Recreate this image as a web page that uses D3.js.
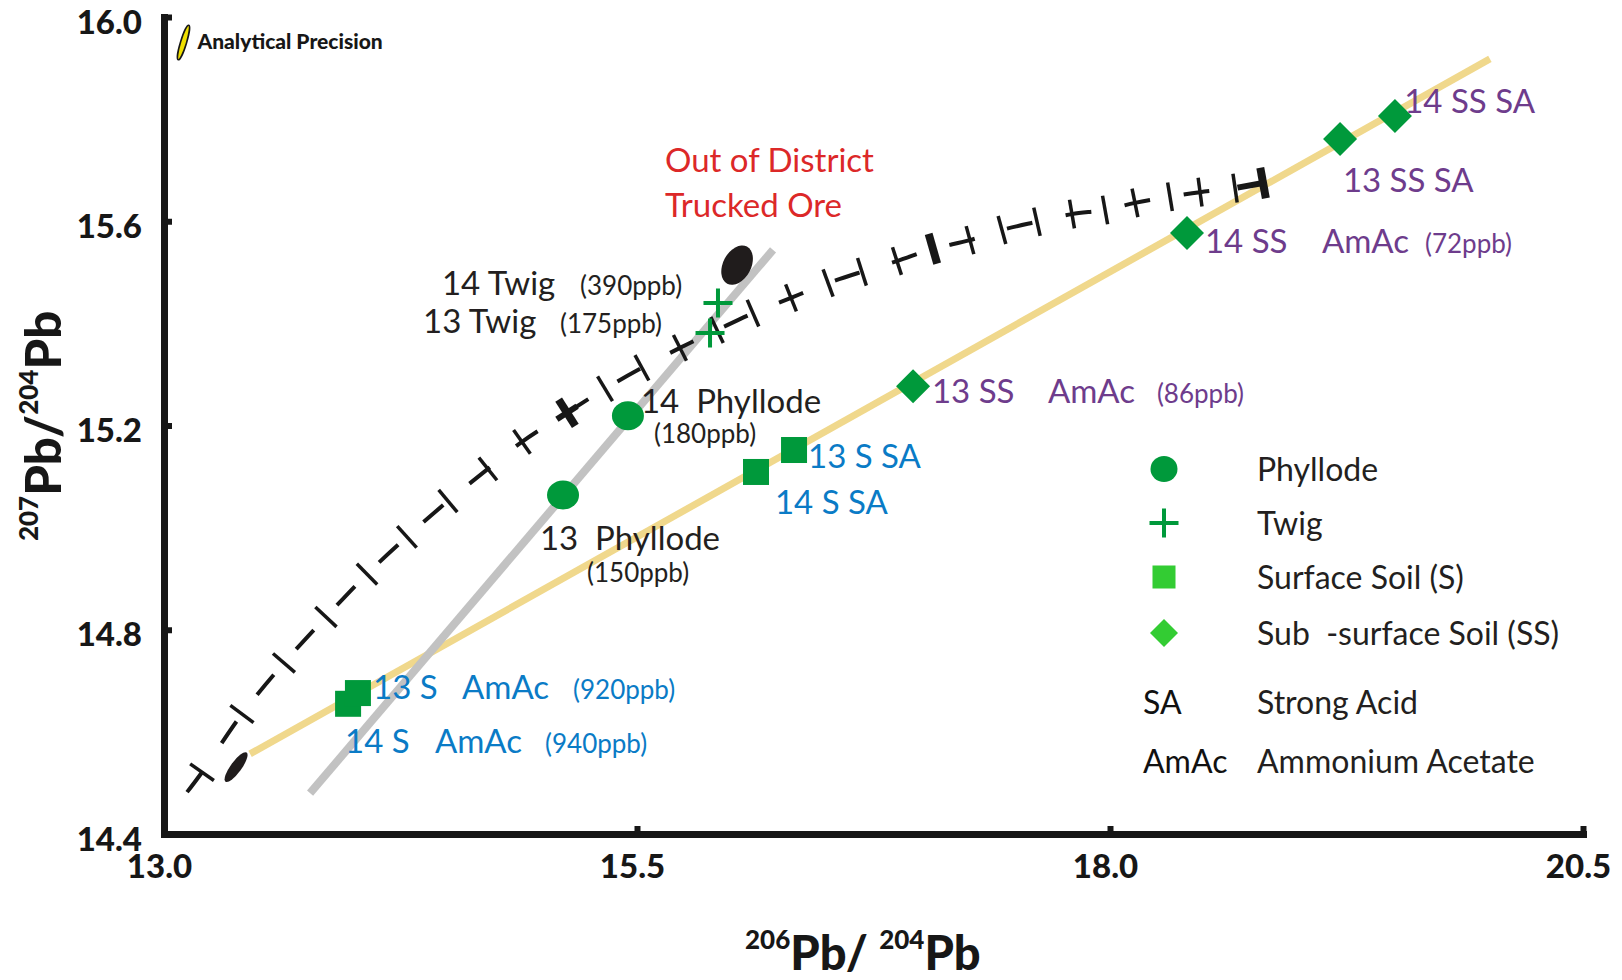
<!DOCTYPE html>
<html>
<head>
<meta charset="utf-8">
<script src="https://cdn.jsdelivr.net/npm/d3@7"></script>
<style>
  html, body { margin: 0; padding: 0; background: #ffffff; }
  svg { display: block; font-family: Lato, "Open Sans", sans-serif; }
  text { white-space: pre; }
</style>
</head>
<body>
<svg id="chart" width="1622" height="980"></svg>
<script>
// ---- Axis ticks ----
const xTicks = [13.0, 15.5, 18.0, 20.5];
const yTicks = [14.4, 14.8, 15.2, 15.6, 16.0];

// ---- Samples: 206Pb/204Pb and 207Pb/204Pb ----
const sampleNames = ["13 Phyllode", "14 Phyllode", "13 Twig", "14 Twig",
  "14 S AmAc", "13 S AmAc", "14 S SA", "13 S SA",
  "13 SS AmAc", "14 SS AmAc", "13 SS SA", "14 SS SA"];
const sampleType = ["phyllode", "phyllode", "twig", "twig",
  "surface", "surface", "surface", "surface",
  "subsurface", "subsurface", "subsurface", "subsurface"];
const sample206 = [15.109, 15.452, 15.886, 15.928,
  13.973, 14.025, 16.129, 16.330,
  16.959, 18.407, 19.216, 19.506];
const sample207 = [15.064, 15.219, 15.381, 15.440,
  14.655, 14.676, 15.109, 15.152,
  15.277, 15.577, 15.761, 15.806];

// ---- Mixing / trend lines (end points) ----
const soilLine206 = [13.455, 20.008];
const soilLine207 = [14.557, 15.918];
const plantLine206 = [13.772, 16.219];
const plantLine207 = [14.480, 15.544];

// ---- Lead growth curve; tick: 1 minor, 2 major bar, 3 major cross ----
const curve206 = [13.122, 13.201, 13.412, 13.634, 13.856, 14.073, 14.284, 14.501, 14.712, 14.892,
  15.130, 15.331, 15.526, 15.727, 15.923, 16.113, 16.314, 16.510, 16.689, 16.874,
  17.064, 17.260, 17.429, 17.614, 17.799, 17.974, 18.132, 18.317, 18.476, 18.661, 18.809];
const curve207 = [14.482, 14.521, 14.635, 14.735, 14.825, 14.909, 14.982, 15.052, 15.115, 15.168,
  15.225, 15.272, 15.313, 15.352, 15.387, 15.420, 15.450, 15.479, 15.501, 15.522,
  15.546, 15.563, 15.583, 15.599, 15.614, 15.622, 15.636, 15.648, 15.657, 15.665, 15.675];
const curveTick = [0, 1, 1, 1, 1, 1, 1, 1, 1, 1,
  3, 1, 1, 1, 1, 1, 1, 1, 1, 1,
  2, 1, 1, 1, 1, 1, 1, 1, 1, 1, 3];

// ---- Reference ore compositions ----
const oreNames = ["Out of District Trucked Ore", "Local Ore"];
const ore206 = [16.029, 13.381];
const ore207 = [15.514, 14.531];

// ---- Annotation labels (start 206Pb/204Pb, baseline 207Pb/204Pb) ----
const labelText = ["Out of District", "Trucked Ore",
  "14 Twig", "(390ppb)", "13 Twig", "(175ppb)",
  "14  Phyllode", "(180ppb)", "13  Phyllode", "(150ppb)",
  "13 S SA", "14 S SA",
  "13 SS", "AmAc", "(86ppb)",
  "14 SS", "AmAc", "(72ppb)",
  "13 SS SA", "14 SS SA",
  "13 S", "AmAc", "(920ppb)",
  "14 S", "AmAc", "(940ppb)"];
const labelGroup = ["ore", "ore",
  "plant", "plant", "plant", "plant",
  "plant", "plant", "plant", "plant",
  "surface", "surface",
  "subsurface", "subsurface", "subsurface",
  "subsurface", "subsurface", "subsurface",
  "subsurface", "subsurface",
  "surface", "surface", "surface",
  "surface", "surface", "surface"];
const label206 = [15.648, 15.648,
  14.469, 15.199, 14.369, 15.093,
  15.521, 15.590, 14.987, 15.236,
  16.404, 16.229,
  17.059, 17.672, 18.248,
  18.502, 19.120, 19.665,
  19.231, 19.555,
  14.105, 14.575, 15.162,
  13.957, 14.432, 15.014];
const label207 = [15.697, 15.608,
  15.456, 15.456, 15.381, 15.381,
  15.224, 15.166, 14.956, 14.894,
  15.117, 15.027,
  15.244, 15.244, 15.244,
  15.538, 15.538, 15.538,
  15.657, 15.812,
  14.664, 14.664, 14.664,
  14.559, 14.559, 14.559];

// ---- Legend ----
const legendKeys = ["phyllode", "twig", "surface", "subsurface", "SA", "AmAc"];
const legendNames = ["Phyllode", "Twig", "Surface Soil (S)", "Sub  -surface Soil (SS)", "Strong Acid", "Ammonium Acetate"];

const precisionLabel = "Analytical Precision";
const precision206 = 13.103, precision207 = 15.950;

// ================= drawing =================
const svg = d3.select("#chart");
const ink = "#171717";
const green = "#00993b";
const lightGreen = "#33cc33";
const toneColour = { ore: "#dc2828", plant: "#231f20", surface: "#0a7bc6", subsurface: "#6e3c8c" };

const x = d3.scaleLinear().domain([13.0, 20.5]).range([164, 1583]);
const y = d3.scaleLinear().domain([14.4, 16.0]).range([834, 17]);

// Axes: thick frame on left and bottom with short inward ticks
const xAxis = d3.axisBottom(x).tickValues(xTicks).tickFormat(d3.format(".1f"))
  .tickSizeInner(-8).tickSizeOuter(0).tickPadding(0);
const yAxis = d3.axisLeft(y).tickValues(yTicks).tickFormat(d3.format(".1f"))
  .tickSizeInner(-8).tickSizeOuter(0).tickPadding(0);

const gx = svg.append("g").attr("transform", `translate(0,${y(14.4)})`).call(xAxis);
const gy = svg.append("g").attr("transform", `translate(${x(13.0)},0)`).call(yAxis);

[gx, gy].forEach(g => {
  g.select(".domain").attr("stroke", ink).attr("stroke-width", 7).attr("stroke-linecap", "square");
  g.selectAll(".tick line").attr("stroke", ink).attr("stroke-width", 6);
  g.selectAll(".tick text")
    .attr("fill", ink)
    .style("font-family", "Lato, sans-serif")
    .style("font-weight", "900")
    .style("font-size", "33px");
});
gx.selectAll(".tick text").attr("y", 44).attr("dy", 0).attr("x", -5).attr("text-anchor", "middle");
gy.selectAll(".tick text").attr("x", -22).attr("dy", 16).attr("text-anchor", "end");

// Axis titles with superscripted isotope masses
const xTitle = svg.append("text")
  .attr("x", 745).attr("y", 970)
  .attr("fill", ink).style("font-weight", "900");
xTitle.append("tspan").text("206").style("font-size", "26px").attr("dy", -21);
xTitle.append("tspan").text("Pb/ ").style("font-size", "47px").attr("dy", 21);
xTitle.append("tspan").text("204").style("font-size", "26px").attr("dy", -21);
xTitle.append("tspan").text("Pb").style("font-size", "47px").attr("dy", 21);

const yTitle = svg.append("text")
  .attr("transform", "translate(61,426) rotate(-90)")
  .attr("text-anchor", "middle")
  .attr("fill", ink).style("font-weight", "900");
yTitle.append("tspan").text("207").style("font-size", "26px").attr("dy", -23);
yTitle.append("tspan").text("Pb/").style("font-size", "49px").attr("dy", 23);
yTitle.append("tspan").text("204").style("font-size", "26px").attr("dy", -23);
yTitle.append("tspan").text("Pb").style("font-size", "49px").attr("dy", 23);

// Trend lines
const plot = svg.append("g");
plot.append("line")
  .attr("x1", x(soilLine206[0])).attr("y1", y(soilLine207[0]))
  .attr("x2", x(soilLine206[1])).attr("y2", y(soilLine207[1]))
  .attr("stroke", "#f0d88c").attr("stroke-width", 7);
plot.append("line")
  .attr("x1", x(plantLine206[0])).attr("y1", y(plantLine207[0]))
  .attr("x2", x(plantLine206[1])).attr("y2", y(plantLine207[1]))
  .attr("stroke", "#c2c2c2").attr("stroke-width", 8);

// Growth curve: dashed line with perpendicular time ticks
const curvePts = curve206.map((v, i) => [x(v), y(curve207[i])]);
plot.append("path")
  .attr("d", d3.line().curve(d3.curveCatmullRom)(curvePts))
  .attr("fill", "none").attr("stroke", ink)
  .attr("stroke-width", 4).attr("stroke-dasharray", "26 34");

curvePts.forEach((p, i) => {
  const kind = curveTick[i];
  if (!kind) return;
  const a = curvePts[Math.max(0, i - 1)];
  const b = curvePts[Math.min(curvePts.length - 1, i + 1)];
  const dx = b[0] - a[0], dy = b[1] - a[1];
  const len = Math.hypot(dx, dy);
  const nx = -dy / len, ny = dx / len;
  const major = kind >= 2;
  const h = major ? 15.5 : 14.5;
  plot.append("line")
    .attr("x1", p[0] - nx * h).attr("y1", p[1] - ny * h)
    .attr("x2", p[0] + nx * h).attr("y2", p[1] + ny * h)
    .attr("stroke", ink).attr("stroke-width", major ? 8 : 3.5);
  if (kind === 3) {
    const tx = dx / len, ty = dy / len;
    const last = i === curvePts.length - 1;
    plot.append("line")
      .attr("x1", p[0] - tx * (last ? 26 : 12)).attr("y1", p[1] - ty * (last ? 26 : 12))
      .attr("x2", p[0] + (last ? 0 : tx * 12)).attr("y2", p[1] + (last ? 0 : ty * 12))
      .attr("stroke", ink).attr("stroke-width", 6);
  }
});

// Ore compositions (black ellipses)
plot.append("ellipse")
  .attr("transform", `translate(${x(ore206[0])},${y(ore207[0])}) rotate(28)`)
  .attr("rx", 14).attr("ry", 21).attr("fill", "#201c1c");
plot.append("ellipse")
  .attr("transform", `translate(${x(ore206[1])},${y(ore207[1])}) rotate(36)`)
  .attr("rx", 5.5).attr("ry", 18).attr("fill", "#201c1c");

// Sample markers
function drawSymbol(g, type, cx, cy, inLegend) {
  if (type === "phyllode") {
    g.append("ellipse").attr("cx", cx).attr("cy", cy)
      .attr("rx", inLegend ? 13.5 : 16).attr("ry", inLegend ? 13 : 14.5).attr("fill", green);
  } else if (type === "twig") {
    const h = 14.5;
    g.append("path").attr("d", `M${cx - h},${cy}H${cx + h}M${cx},${cy - h}V${cy + h}`)
      .attr("stroke", green).attr("stroke-width", 4).attr("fill", "none");
  } else if (type === "surface") {
    const s = inLegend ? 23 : 26;
    g.append("rect").attr("x", cx - s / 2).attr("y", cy - s / 2).attr("width", s).attr("height", s)
      .attr("fill", inLegend ? lightGreen : green);
  } else if (type === "subsurface") {
    const s = inLegend ? 14 : 17;
    g.append("path").attr("d", `M${cx},${cy - s}L${cx + s},${cy}L${cx},${cy + s}L${cx - s},${cy}Z`)
      .attr("fill", inLegend ? lightGreen : green);
  }
}
const markers = plot.append("g");
sampleNames.forEach((n, i) => drawSymbol(markers, sampleType[i], x(sample206[i]), y(sample207[i]), false));

// Labels
const labels = svg.append("g");
labelText.forEach((t, i) => {
  const note = t.startsWith("(");
  labels.append("text")
    .attr("x", x(label206[i])).attr("y", y(label207[i]))
    .attr("fill", toneColour[labelGroup[i]])
    .style("font-size", note ? "26px" : "33px")
    .text(t);
});

// Analytical precision marker
svg.append("ellipse")
  .attr("transform", `translate(${x(precision206)},${y(precision207)}) rotate(17)`)
  .attr("rx", 3).attr("ry", 18).attr("fill", "#f0e000")
  .attr("stroke", ink).attr("stroke-width", 1.6);
svg.append("text")
  .attr("x", x(precision206) + 14).attr("y", y(precision207) + 6)
  .attr("fill", ink).style("font-size", "21px").style("font-weight", "900")
  .text(precisionLabel);

// Legend
const legend = svg.append("g");
const legendRowY = [469, 523, 577, 633, 702, 761];
legendKeys.forEach((k, i) => {
  const cy = legendRowY[i];
  if (k === "SA" || k === "AmAc") {
    legend.append("text").attr("x", 1143).attr("y", cy + 12)
      .attr("fill", "#111").style("font-size", "32px").text(k);
  } else {
    drawSymbol(legend, k, 1164, cy, true);
  }
  legend.append("text").attr("x", 1257).attr("y", cy + 12)
    .attr("fill", "#231f20").style("font-size", "32px").text(legendNames[i]);
});
</script>
</body>
</html>
